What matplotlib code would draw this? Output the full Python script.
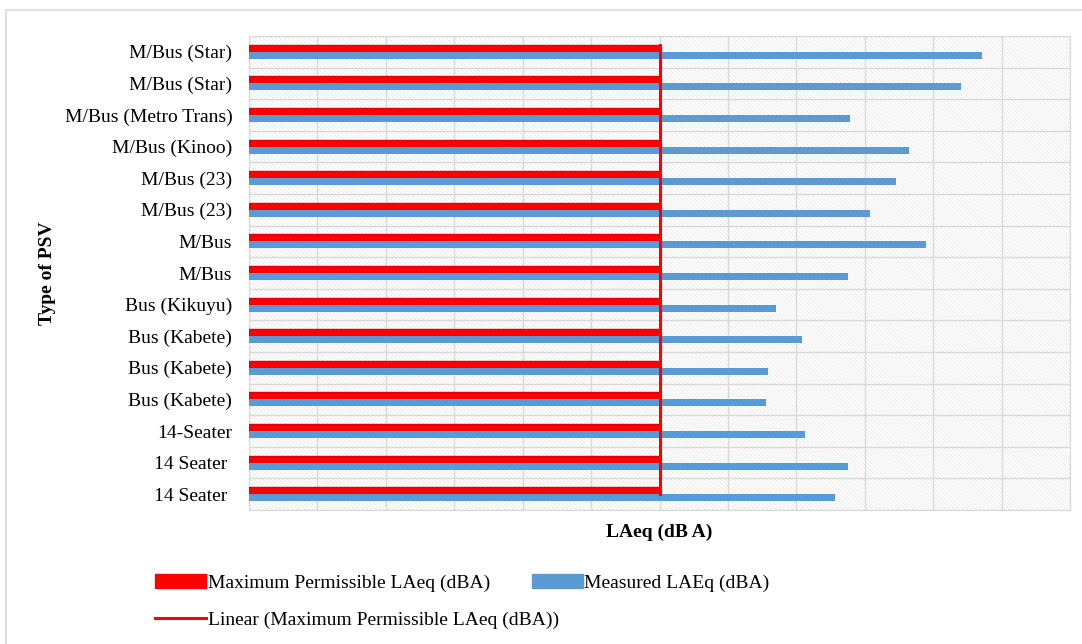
import numpy as np
import matplotlib
matplotlib.use('Agg')
import matplotlib.pyplot as plt
from matplotlib.patches import Patch, Rectangle
from matplotlib.lines import Line2D

plt.rcParams['font.family'] = ['Liberation Serif', 'DejaVu Serif']
plt.rcParams['hatch.linewidth'] = 0.5

# rows listed top to bottom as in the chart
psv_types = ['M/Bus (Star)', 'M/Bus (Star)', 'M/Bus (Metro Trans)', 'M/Bus (Kinoo)',
             'M/Bus (23)', 'M/Bus (23)', 'M/Bus', 'M/Bus', 'Bus (Kikuyu)',
             'Bus (Kabete)', 'Bus (Kabete)', 'Bus (Kabete)', '14-Seater',
             '14 Seater ', '14 Seater ']
measured = [107.2, 104.0, 87.8, 96.4, 94.6, 90.8, 98.9, 87.6, 77.0,
            80.9, 75.9, 75.6, 81.3, 87.5, 85.6]
max_permissible = [60] * 15

red = '#FF0000'
blue = '#5B9BD5'
grid_col = '#D9D9D9'

fig = plt.figure(figsize=(10.82, 6.44), dpi=100)
ax = fig.add_axes([249 / 1082, 1 - 510 / 644, 821 / 1082, 474 / 644])

n = len(psv_types)
ypos = np.arange(n)[::-1]
h = 0.22

# hatched plot area
ax.add_patch(Rectangle((0, 0), 1, 1, transform=ax.transAxes, facecolor='white',
                       edgecolor='#E4E4E4', hatch='\\' * 8, linewidth=0, zorder=0))

ax.barh(ypos + h / 2, max_permissible, height=h, color=red, edgecolor='#E00000',
        linewidth=1, zorder=3)
ax.barh(ypos - h / 2, measured, height=h, color=blue, linewidth=0, zorder=3)

# linear trendline of the max permissible series
ax.plot([max_permissible[0], max_permissible[-1]], [ypos.max() + h, ypos.min()],
        color=red, linewidth=2.2, zorder=4)

ax.set_xlim(0, 120)
ax.set_ylim(-0.5, n - 0.5)
ax.set_xticks(np.arange(0, 121, 10))
ax.set_xticklabels([])
ax.set_yticks(ypos)
ax.set_yticklabels(psv_types, fontsize=14)
ax.set_yticks(np.arange(-0.5, n, 1), minor=True)
ax.tick_params(axis='both', which='both', length=0)
ax.tick_params(axis='y', pad=12)
ax.grid(axis='x', color=grid_col, linewidth=1, zorder=1)
ax.grid(axis='y', which='minor', color=grid_col, linewidth=1, zorder=1)
for s in ax.spines.values():
    s.set_color(grid_col)
ax.set_axisbelow(True)

ax.set_xlabel('LAeq (dB A)', fontsize=14, fontweight='bold', labelpad=6)
fig.text(47 / 1082, 1 - 273 / 644, 'Type of PSV', rotation=90, fontsize=14,
         fontweight='bold', ha='center', va='center')

# legend entries
kw = dict(frameon=False, fontsize=14, handlelength=2.6, handletextpad=0.1,
          loc='center left', borderpad=0, borderaxespad=0)
fig.legend(handles=[Patch(color=red, label='Maximum Permissible LAeq (dBA)')],
           bbox_to_anchor=(155 / 1082, 1 - 583 / 644), **kw)
fig.legend(handles=[Patch(color=blue, label='Measured LAEq (dBA)')],
           bbox_to_anchor=(532 / 1082, 1 - 583 / 644), **kw)
fig.legend(handles=[Line2D([], [], color=red, linewidth=2.2,
                           label='Linear (Maximum Permissible LAeq (dBA))')],
           bbox_to_anchor=(155 / 1082, 1 - 620 / 644), **kw)

# chart area border
fig.patches.append(Rectangle((6 / 1082, -0.1), 1.2, (644 - 10) / 644 + 0.1,
                             transform=fig.transFigure, fill=False,
                             edgecolor=grid_col, linewidth=1.2))

fig.savefig('out.png', dpi=100)
